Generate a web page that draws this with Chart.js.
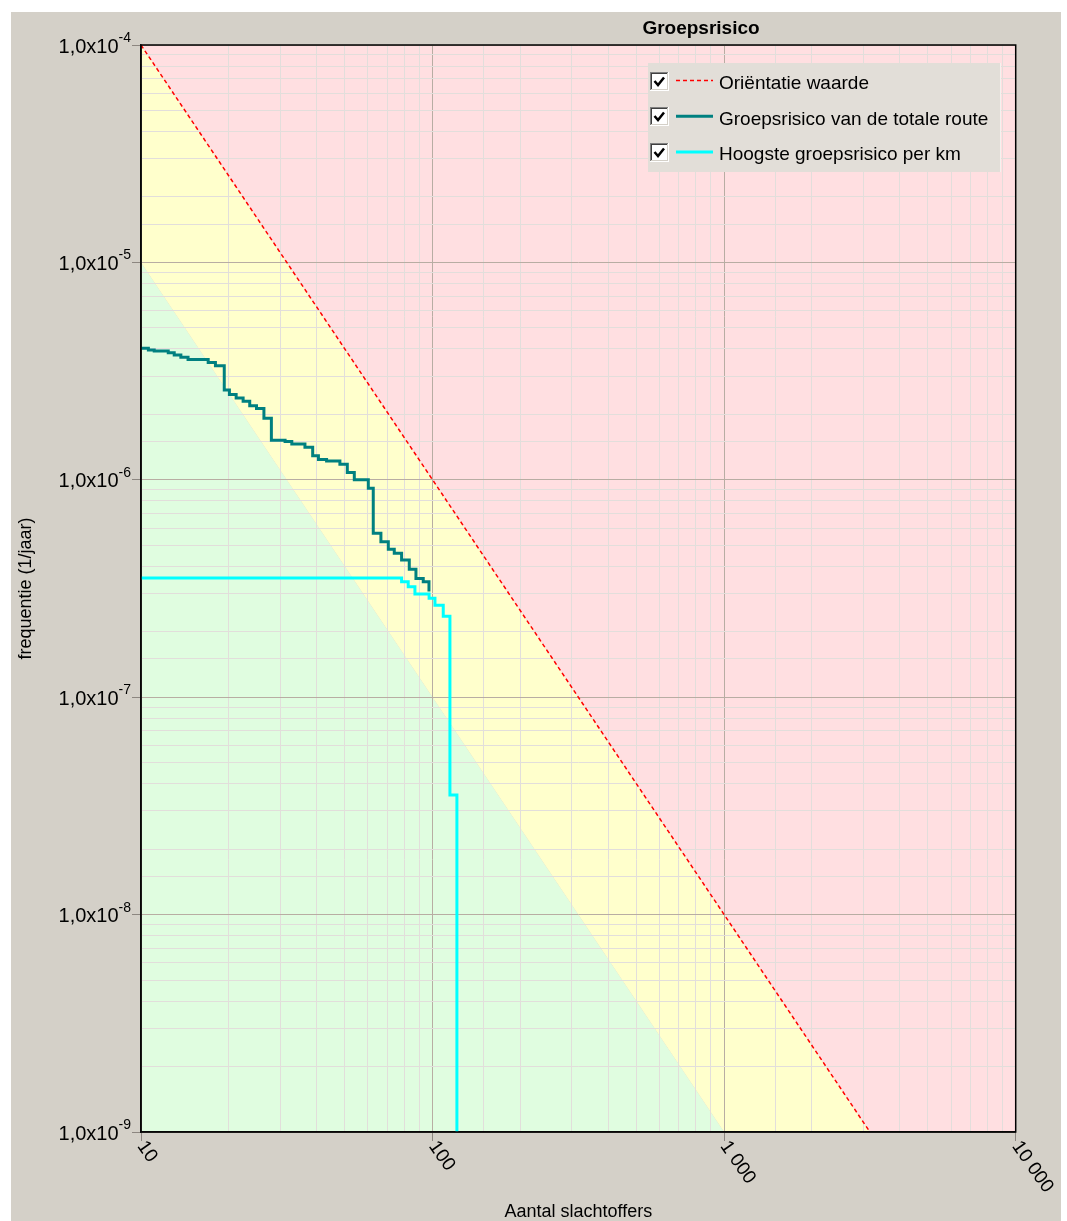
<!DOCTYPE html>
<html>
<head>
<meta charset="utf-8">
<script src="https://cdn.jsdelivr.net/npm/chart.js@4.4.1/dist/chart.umd.min.js"></script>
<style>
  body { margin: 0; background: #fff; }
  #wrap { position: absolute; left: 11px; top: 12px; width: 1050px; height: 1209px; background: #d4d0c8; }
</style>
</head>
<body>
<div id="wrap"><canvas id="fn" width="1050" height="1209"></canvas></div>
<script>
const FONT = '"Liberation Sans", Arial, sans-serif';

// ---- Data ----
const titleText = 'Groepsrisico';
const seriesLabels = ['Oriëntatie waarde', 'Groepsrisico van de totale route', 'Hoogste groepsrisico per km'];

// orientation value line (F = 1e-2 / N^2) and the lower band border
const orientatieN = [10, 10000];
const orientatieF = [1e-4, 1e-10];
const grensN = [10, 10000];
const grensF = [1e-5, 1e-11];

// FN curve of the whole route
const routeN = [10, 10.6, 11.1, 12.4, 13.0, 13.7, 14.5, 17.0, 18.0, 19.3,
  20.1, 21.2, 22.4, 23.6, 24.9, 26.4, 28.0, 31.2, 32.9, 36.5,
  38.8, 40.6, 43.3, 48.1, 51.0, 53.9, 60.2, 62.6, 66.5, 70.5,
  73.9, 78.3, 83.2, 87.7, 92.9, 97.2];
const routeF = [4.03e-6, 3.95e-6, 3.91e-6, 3.84e-6, 3.75e-6, 3.66e-6, 3.58e-6, 3.46e-6, 3.35e-6, 2.59e-6,
  2.47e-6, 2.38e-6, 2.30e-6, 2.19e-6, 2.13e-6, 1.92e-6, 1.52e-6, 1.50e-6, 1.46e-6, 1.41e-6,
  1.29e-6, 1.24e-6, 1.22e-6, 1.18e-6, 1.08e-6, 1.00e-6, 9.14e-7, 5.68e-7, 5.19e-7, 4.79e-7,
  4.59e-7, 4.28e-7, 3.88e-7, 3.52e-7, 3.40e-7, 3.06e-7];

// highest FN curve per km
const kmN = [10, 78.3, 82.5, 87.0, 97.3, 101.9, 108.8, 114.7, 121.2];
const kmF = [3.53e-7, 3.40e-7, 3.22e-7, 2.98e-7, 2.85e-7, 2.65e-7, 2.36e-7, 3.55e-8, 1e-9];

// ticks
const xTicks = [10, 100, 1000, 10000];
const xTickLabels = ['10', '100', '1 000', '10 000'];
const yExponents = [-4, -5, -6, -7, -8, -9];
const yMantissa = '1,0x10';

const pts = (xs, ys) => xs.map((v, i) => ({ x: v, y: ys[i] }));
const isMajor = v => { const e = Math.log10(v); return Math.abs(e - Math.round(e)) < 1e-6; };

// ---- Drawing extras: frame, title, tick labels, legend ----
const decor = {
  id: 'decor',
  afterDraw(chart) {
    const { ctx, chartArea: a, scales: { x, y } } = chart;
    ctx.save();
    ctx.strokeStyle = '#000';
    ctx.lineWidth = 1.5;
    ctx.strokeRect(a.left, a.top, a.right - a.left, a.bottom - a.top);

    ctx.fillStyle = '#000';
    ctx.font = 'bold 19px ' + FONT;
    ctx.textAlign = 'center';
    ctx.textBaseline = 'alphabetic';
    ctx.fillText(titleText, 690, 21.5);

    // y labels with superscript exponent
    yExponents.forEach(e => {
      const py = y.getPixelForValue(Math.pow(10, e));
      ctx.textAlign = 'right';
      ctx.font = '14px ' + FONT;
      const sup = String(e);
      const w = ctx.measureText(sup).width;
      ctx.fillText(sup, 120, py - 3);
      ctx.font = '20px ' + FONT;
      ctx.fillText(yMantissa, 120 - w, py + 7.5);
    });

    // rotated x labels
    xTicks.forEach((v, i) => {
      const px = x.getPixelForValue(v);
      ctx.save();
      ctx.translate(px, a.bottom + 11);
      ctx.rotate(55 * Math.PI / 180);
      ctx.font = '19px ' + FONT;
      ctx.textAlign = 'left';
      ctx.textBaseline = 'middle';
      ctx.fillText(xTickLabels[i], 0, 0);
      ctx.restore();
    });

    // legend
    ctx.fillStyle = '#e2ded8';
    ctx.fillRect(637, 51, 353, 109);
    ctx.fillStyle = '#f4f2ee';
    ctx.fillRect(989, 51, 1, 109);
    [0, 1, 2].forEach((di, r) => {
      const ds = chart.data.datasets[di];
      const cy = 68.5 + r * 35.7;
      const bx = 639, by = Math.round(cy - 9), s = 19;
      ctx.fillStyle = '#fff'; ctx.fillRect(bx, by, s, s);
      ctx.fillStyle = '#808080'; ctx.fillRect(bx, by, s, 1); ctx.fillRect(bx, by, 1, s);
      ctx.fillStyle = '#404040'; ctx.fillRect(bx + 1, by + 1, s - 2, 1); ctx.fillRect(bx + 1, by + 1, 1, s - 2);
      ctx.fillStyle = '#ffffff'; ctx.fillRect(bx, by + s - 1, s, 1); ctx.fillRect(bx + s - 1, by, 1, s);
      ctx.fillStyle = '#d4d0c8'; ctx.fillRect(bx + 1, by + s - 2, s - 2, 1); ctx.fillRect(bx + s - 2, by + 1, 1, s - 2);
      ctx.strokeStyle = '#000'; ctx.lineWidth = 2.5; ctx.setLineDash([]);
      ctx.beginPath();
      ctx.moveTo(bx + 4.5, by + 9); ctx.lineTo(bx + 8, by + 13); ctx.lineTo(bx + 14, by + 5.5);
      ctx.stroke();

      ctx.strokeStyle = ds.borderColor;
      ctx.lineWidth = ds.borderWidth;
      ctx.setLineDash(ds.borderDash || []);
      ctx.beginPath(); ctx.moveTo(665, cy); ctx.lineTo(702, cy); ctx.stroke();
      ctx.setLineDash([]);

      ctx.fillStyle = '#000';
      ctx.font = '19px ' + FONT;
      ctx.textAlign = 'left';
      ctx.textBaseline = 'alphabetic';
      ctx.fillText(ds.label, 708, cy + 8.5);
    });
    ctx.restore();
  }
};

const gridColor = c => isMajor(c.tick.value) ? '#b8ada3' : '#e2dedb';
const tickColor = c => isMajor(c.tick.value) ? '#8c8680' : 'rgba(0,0,0,0)';

new Chart(document.getElementById('fn'), {
  type: 'line',
  data: {
    datasets: [
      { label: seriesLabels[0], data: pts(orientatieN, orientatieF), borderColor: '#ff0000', borderWidth: 1.5,
        borderDash: [4, 3], backgroundColor: '#ffdfe1', fill: 'end', pointRadius: 0, order: 0, clip: 0 },
      { label: seriesLabels[1], data: pts(routeN, routeF), borderColor: '#008080', borderWidth: 3,
        stepped: true, fill: false, pointRadius: 0, order: 2, clip: 0 },
      { label: seriesLabels[2], data: pts(kmN, kmF), borderColor: '#00ffff', borderWidth: 3,
        stepped: true, fill: false, pointRadius: 0, order: 1, clip: 0 },
      { label: 'band', data: pts(orientatieN, orientatieF), borderWidth: 0, borderColor: 'rgba(0,0,0,0)',
        backgroundColor: '#ffffcc', fill: 4, pointRadius: 0, order: 3, clip: 0 },
      { label: 'grens', data: pts(grensN, grensF), borderWidth: 0, borderColor: 'rgba(0,0,0,0)',
        backgroundColor: '#e0fde0', fill: 'start', pointRadius: 0, order: 4, clip: 0 }
    ]
  },
  options: {
    responsive: false,
    animation: false,
    layout: { padding: { left: 0, top: 33, right: 45.3, bottom: 0 } },
    plugins: {
      legend: { display: false },
      tooltip: { enabled: false },
      filler: { drawTime: 'beforeDraw' }
    },
    scales: {
      x: {
        type: 'logarithmic', min: 10, max: 10000,
        afterFit: s => { s.height = 89; },
        ticks: { display: false },
        grid: { color: gridColor, tickColor: tickColor, tickLength: 9, lineWidth: 1 },
        border: { color: '#1a1a1a', width: 1.5 },
        title: { display: true, text: 'Aantal slachtoffers', color: '#000',
          font: { family: FONT, size: 18, lineHeight: 1 }, padding: 0 }
      },
      y: {
        type: 'logarithmic', min: 1e-9, max: 1e-4,
        afterFit: s => { s.width = 130; },
        ticks: { display: false },
        grid: { color: gridColor, tickColor: tickColor, tickLength: 9, lineWidth: 1 },
        border: { color: '#1a1a1a', width: 1.5 },
        title: { display: true, text: 'frequentie (1/jaar)', color: '#000',
          font: { family: FONT, size: 18, lineHeight: 1.2 }, padding: { top: 4.2, bottom: 0 } }
      }
    }
  },
  plugins: [decor]
});
</script>
</body>
</html>
